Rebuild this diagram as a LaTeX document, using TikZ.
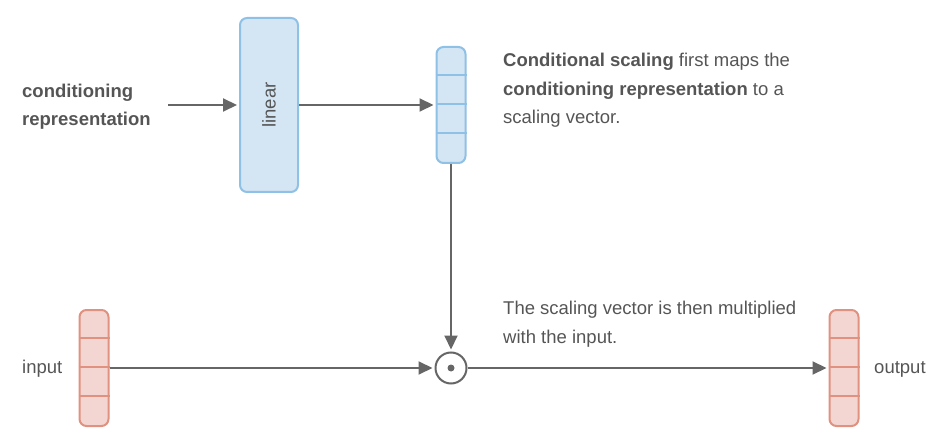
\documentclass[tikz,border=0pt]{standalone}
\usepackage{fontspec}
\setmainfont{Liberation Sans}
\usetikzlibrary{arrows.meta}
\definecolor{boxblue}{HTML}{D4E5F4}
\definecolor{lineblue}{HTML}{8FC0E5}
\definecolor{boxred}{HTML}{F3D6D1}
\definecolor{linered}{HTML}{E0917F}
\definecolor{ink}{HTML}{555555}
\definecolor{wire}{HTML}{666666}
\begin{document}
\begin{tikzpicture}[x=1pt, y=-1pt, font=\fontsize{18.5}{28.5}\selectfont, text=ink]
    \useasboundingbox (0,0) rectangle (944,435);
    \begin{scope}
        \tikzstyle{every node}=[line width=2pt, rounded corners=7pt, inner sep=0pt, minimum width=29pt, minimum height=116pt]
        \node (lin) at (269,105) [draw=lineblue, fill=boxblue, minimum width=58pt, minimum height=174pt] {};
        \node (cvec) at (451,105) [draw=lineblue, fill=boxblue] {};
        \node (invec) at (94,368) [draw=linered, fill=boxred] {};
        \node (outvec) at (844,368) [draw=linered, fill=boxred] {};
    \end{scope}
    \node[rotate=90] (linlabel) at (lin.center) {linear};
    \foreach \k in {1,2,3} {
        \draw[lineblue, line width=2pt] ([yshift=-\k*29pt]cvec.north west) -- ([yshift=-\k*29pt]cvec.north east);
        \draw[linered, line width=2pt] ([yshift=-\k*29pt]invec.north west) -- ([yshift=-\k*29pt]invec.north east);
        \draw[linered, line width=2pt] ([yshift=-\k*29pt]outvec.north west) -- ([yshift=-\k*29pt]outvec.north east);
    }
    \node[draw=wire, line width=2pt, circle, minimum size=31pt, inner sep=0pt] (mult) at (451,368) {};
    \fill[wire] (mult.center) circle (3.5pt);
    \node[anchor=west, align=left, inner sep=0pt] (cond) at (22,106.5) {\textbf{conditioning}\\\textbf{representation}};
    \node[anchor=west, inner sep=0pt] (input) at (22,369) {input};
    \node[anchor=west, inner sep=0pt] (output) at (874,369) {output};
    \node[anchor=north west, align=left, inner sep=0pt] (note1) at (503,53) {\textbf{Conditional scaling} first maps the\\\textbf{conditioning representation} to a\\scaling vector.};
    \node[anchor=north west, align=left, inner sep=0pt] (note2) at (503,301) {The scaling vector is then multiplied\\with the input.};
    \coordinate (condout) at (168,105);
    \begin{scope}
        \tikzstyle{every edge}=[draw=wire, line width=2pt, -{Triangle[length=14pt, width=13pt]}, shorten >=2pt]
        \path
        (condout) edge (lin)
        (lin) edge (cvec)
        (cvec) edge (mult)
        (invec) edge (mult)
        (mult) edge (outvec);
    \end{scope}
\end{tikzpicture}
\end{document}
